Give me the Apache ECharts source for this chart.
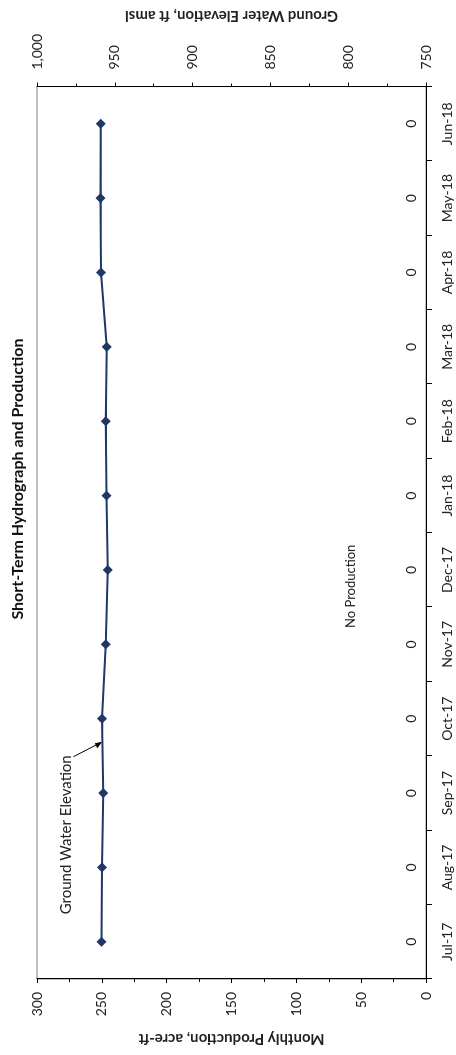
<!DOCTYPE html>
<html>
<head>
<meta charset="utf-8">
<script src="https://cdn.jsdelivr.net/npm/echarts@6/dist/echarts.min.js"></script>
<style>
html,body{margin:0;padding:0;background:#fff;overflow:hidden;width:456px;height:1055px;}
#chart{position:absolute;left:0;top:0;width:1055px;height:456px;transform-origin:0 0;transform:translate(0,1055px) rotate(-90deg);}
</style>
</head>
<body>
<div id="chart"></div>
<script>
const months = ['Jul-17','Aug-17','Sep-17','Oct-17','Nov-17','Dec-17','Jan-18','Feb-18','Mar-18','Apr-18','May-18','Jun-18'];
const production = [0,0,0,0,0,0,0,0,0,0,0,0];
const elevation = [958.5,958.3,957.5,958.3,955.8,954.5,955.4,955.8,955.1,958.8,959.2,959.0];
const prodTicks = {min:0, max:300, interval:50};
const elevTicks = {min:750, max:1000, interval:50};
const titleText = 'Short-Term Hydrograph and Production';

const FONT = 'Lato, "Open Sans", sans-serif';
const chart = echarts.init(document.getElementById('chart'), null, {renderer:'canvas'});
const option = {
  animation:false,
  backgroundColor:'#fff',
  grid:{left:76,right:78,top:37,bottom:30,show:true,borderColor:'#808080',borderWidth:1},
  xAxis:{
    type:'category',data:months,boundaryGap:true,
    axisLine:{lineStyle:{color:'#000',width:1}},
    axisTick:{show:true,length:6,lineStyle:{color:'#000'}},
    axisLabel:{color:'#222',fontSize:14,fontFamily:FONT,margin:14}
  },
  yAxis:[{
    type:'value',position:'left',min:prodTicks.min,max:prodTicks.max,interval:prodTicks.interval,
    name:'Monthly Production, acre-ft',nameLocation:'middle',nameGap:52,
    nameTextStyle:{fontWeight:'bold',fontSize:15,fontFamily:FONT,color:'#222'},
    axisLine:{show:true,lineStyle:{color:'#000'}},
    axisTick:{show:true,length:4,lineStyle:{color:'#000'}},
    minorTick:{show:true,splitNumber:2,length:3,lineStyle:{color:'#000'}},
    splitLine:{show:false},
    axisLabel:{color:'#222',fontSize:14,fontFamily:FONT,margin:13}
  },{
    type:'value',position:'right',min:elevTicks.min,max:elevTicks.max,interval:elevTicks.interval,
    name:'Ground Water Elevation, ft amsl',nameLocation:'middle',nameGap:62,nameRotate:90,
    nameTextStyle:{fontWeight:'bold',fontSize:15,fontFamily:FONT,color:'#222'},
    axisLine:{show:true,lineStyle:{color:'#000'}},
    axisTick:{show:true,length:4,lineStyle:{color:'#000'}},
    minorTick:{show:true,splitNumber:2,length:3,lineStyle:{color:'#000'}},
    splitLine:{show:false},
    axisLabel:{color:'#222',fontSize:14,fontFamily:FONT,margin:17,
      formatter:v=>v.toLocaleString('en-US')}
  }],
  series:[{
    name:'Monthly Production',type:'bar',yAxisIndex:0,data:production,
    itemStyle:{color:'#4f81bd'},
    label:{show:true,position:'top',distance:8,color:'#222',fontSize:14,fontFamily:FONT}
  },{
    name:'Ground Water Elevation',type:'line',yAxisIndex:1,data:elevation,
    symbol:'diamond',symbolSize:10,
    lineStyle:{color:'#1f3864',width:2},
    itemStyle:{color:'#1f3864'},
    z:5
  }]
};
chart.setOption(option);

// annotations anchored through the chart's own scales (interpolated between categories)
function px(idx, val, yi){
  const i0 = Math.floor(idx), f = idx - i0;
  const a = chart.convertToPixel({xAxisIndex:0,yAxisIndex:yi},[i0,val]);
  const b = chart.convertToPixel({xAxisIndex:0,yAxisIndex:yi},[i0+1,val]);
  return [a[0]+(b[0]-a[0])*f, a[1]];
}
const tip = px(2.69,958.0,1);
const noProd = px(4.78,58,0);
chart.setOption({
  graphic:[
    {type:'text',x:576,y:18,style:{text:titleText,font:'bold 16px '+FONT,fill:'#111',textAlign:'center',textVerticalAlign:'middle'}},
    {type:'text',x:tip[0]-93,y:tip[1]-36,style:{text:'Ground Water Elevation',font:'15px '+FONT,fill:'#222',textAlign:'center',textVerticalAlign:'middle'}},
    {type:'line',shape:{x1:tip[0]-15,y1:tip[1]-29,x2:tip[0]-1,y2:tip[1]-2},style:{stroke:'#000',lineWidth:1}},
    {type:'polygon',shape:{points:[[tip[0],tip[1]],[tip[0]-6.5,tip[1]-5],[tip[0]-1.5,tip[1]-7.5]]},style:{fill:'#000'}},
    {type:'text',x:noProd[0],y:noProd[1],style:{text:'No Production',font:'13px '+FONT,fill:'#222',textAlign:'center',textVerticalAlign:'middle'}}
  ]
});
</script>
</body>
</html>
